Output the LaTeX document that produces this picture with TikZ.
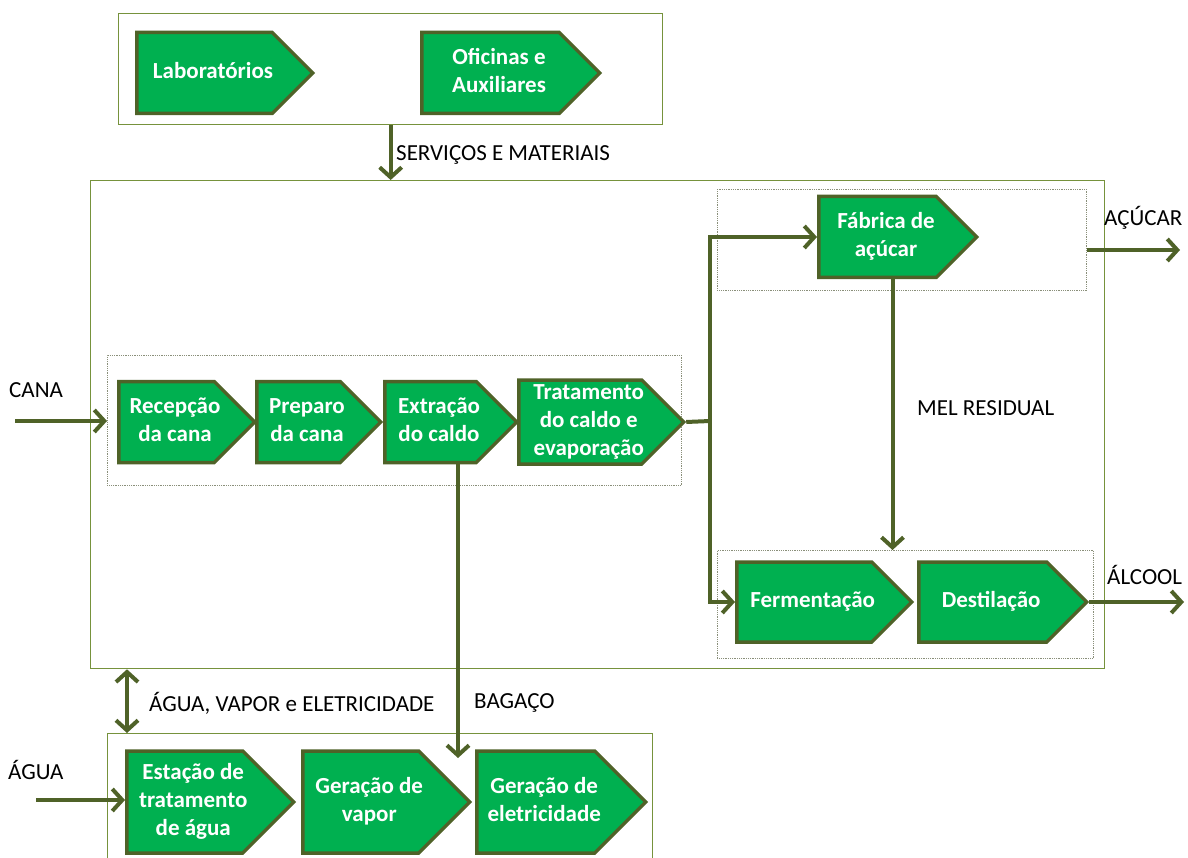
\documentclass[tikz,border=0pt]{standalone}
\usepackage{fontspec}
\setmainfont{Carlito}
\usepackage{tikz}
\usetikzlibrary{arrows.meta,positioning,shapes.symbols}
\definecolor{cane}{HTML}{00B050}
\definecolor{edge}{HTML}{4F6228}
\definecolor{frame}{HTML}{76923C}
\definecolor{dots}{HTML}{8A8F7A}
% text of a stage, set a little right of the body centre
\newcommand{\stxt}[1]{\hspace*{17pt}\begin{tabular}{@{}c@{}}#1\end{tabular}}

\begin{document}
\begin{tikzpicture}[
  x=1pt, y=-1pt,
  stage/.style={signal,signal to=east,signal pointer angle=90,draw=edge,
                line width=3.5pt,fill=cane,text=white,
                font=\bfseries\fontsize{23}{28}\selectfont,
                inner xsep=-8pt,inner ysep=0pt,anchor=west,minimum height=81pt},
  frm/.style={draw=frame,line width=1.3pt,anchor=north west,inner sep=0pt},
  grp/.style={draw=dots,densely dotted,line width=0.8pt,anchor=north west,inner sep=0pt},
  ar/.style={-{Straight Barb[length=10pt,width=22pt]},draw=edge,line width=4pt},
  dar/.style={ar,{Straight Barb[length=10pt,width=22pt]}-{Straight Barb[length=10pt,width=22pt]}},
  lbl/.style={font=\fontsize{23}{27}\selectfont,anchor=west,inner sep=0pt},
]
\useasboundingbox (0,0) rectangle (1188,858);
\clip (0,0) rectangle (1188,858);
\fill[white] (0,0) rectangle (1188,858);

% ---- frames
\node[frm,minimum width=544pt,minimum height=111pt] (supp) at (118,13) {};
\node[frm,minimum width=1014pt,minimum height=488pt] (mill) at (90,180) {};
\node[frm,minimum width=545pt,minimum height=200pt] (util) at (107,733) {};
\node[grp,minimum width=574pt,minimum height=130pt] (juice) at (107,355) {};
\node[grp,minimum width=369pt,minimum height=101pt] (sugar) at (717,189) {};
\node[grp,minimum width=376pt,minimum height=108pt] (ethanol) at (717,550) {};

% ---- services on top
\node[stage,minimum width=176pt] (lab) at (135,73) {\stxt{Laboratórios}};
\node[stage,minimum width=178pt] (shop) at (420,73) {\stxt{Oficinas e\\Auxiliares}};

% ---- juice line
\node[stage,minimum width=136pt] (rec) at (117,422) {\stxt{Recepção\\da cana}};
\node[stage,minimum width=124pt] (prep) at (255,422) {\stxt{Preparo\\da cana}};
\node[stage,minimum width=132pt] (ext) at (383,422) {\stxt{Extração\\do caldo}};
\node[stage,minimum width=165pt] (trat) at (517,422) {\stxt{Tratamento\\do caldo e\\evaporação}};

% ---- products
\node[stage,minimum width=158pt] (fab) at (817,237) {\stxt{Fábrica de\\açúcar}};
\node[stage,minimum width=175pt,minimum height=80pt] (ferm) at (735,602) {\stxt{Fermentação}};
\node[stage,minimum width=168pt,minimum height=80pt] (dest) at (917,602) {\stxt{Destilação}};

% ---- utilities
\node[stage,minimum width=167pt,minimum height=102pt] (eta) at (125,802) {\stxt{Estação de\\tratamento\\de água}};
\node[stage,minimum width=167pt,minimum height=102pt] (gvap) at (301,802) {\stxt{Geração de\\vapor}};
\node[stage,minimum width=169pt,minimum height=102pt] (gele) at (475,802) {\stxt{Geração de\\eletricidade}};

% ---- flows
\coordinate (cana) at (15,421);
\coordinate (jn) at (710,421);
\coordinate (acucar) at (1180,250);
\coordinate (alcool) at (1184,602);
\coordinate (bag) at (458,758);
\coordinate (aux) at (127,700);
\coordinate (agua) at (36,800);

\draw[ar] (supp.south) -- (supp.south |- mill.north);
\draw[ar] (cana) -- (cana -| juice.west);
\draw[draw=edge,line width=4pt] (trat.east) -- (jn);
\draw[ar] (jn) |- (fab.west);
\draw[ar] (jn) |- (ferm.west);
\draw[ar] ([xshift=15pt]fab.south) -- ([xshift=15pt]fab.south |- ethanol.north);
\draw[ar] (acucar -| sugar.east) -- (acucar);
\draw[ar] (dest.east) -- (alcool);
\draw[ar] (bag |- ext.south) -- (bag);
\draw[dar] (aux |- mill.south) -- (aux |- util.north);
\draw[ar] (agua) -- (agua -| eta.west);

% ---- flow labels
\node[lbl] (lserv) at (396,155) {SERVIÇOS E MATERIAIS};
\node[lbl] (lcana) at (9,390) {CANA};
\node[lbl] (lacu) at (1104,218) {AÇÚCAR};
\node[lbl] (lmel) at (917,408) {MEL RESIDUAL};
\node[lbl] (lalc) at (1107,575) {ÁLCOOL};
\node[lbl] (lutil) at (149,703) {ÁGUA, VAPOR e ELETRICIDADE};
\node[lbl] (lbag) at (474,703) {BAGAÇO};
\node[lbl] (lagua) at (8,770) {ÁGUA};
\end{tikzpicture}
\end{document}
